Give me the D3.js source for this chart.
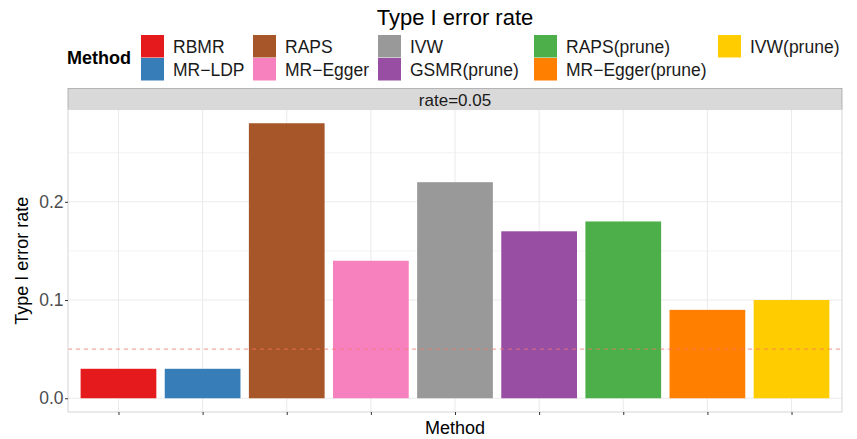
<!DOCTYPE html>
<meta charset="utf-8">
<html lang="en">
<head>
<title>Type I error rate</title>
<script src="https://d3js.org/d3.v7.min.js"></script>
<style>
  body { margin: 0; background: #fff; }
  svg text { font-family: "Liberation Sans", Arial, Helvetica, sans-serif; }
</style>
</head>
<body>
<svg id="chart" width="857" height="439"></svg>
<script>
// data
var methods = ["RBMR", "MR-LDP", "RAPS", "MR-Egger", "IVW", "GSMR(prune)", "RAPS(prune)", "MR-Egger(prune)", "IVW(prune)"]
var rates = [0.03, 0.03, 0.28, 0.14, 0.22, 0.17, 0.18, 0.09, 0.10]
var colors = ["#e41a1c", "#377eb8", "#a65628", "#f781bf", "#999999", "#984ea3", "#4daf4a", "#ff7f00", "#ffcc00"]
var yTicks = [0, 0.1, 0.2]
var yMinor = [0.05, 0.15, 0.25]
var nominal = 0.05
var facetLabel = "rate=0.05"

var svg = d3.select("#chart")

var panel = { left: 68, right: 842, top: 109.5, bottom: 412 }

// discrete x with ggplot-like 0.6 expansion
var x = d3.scalePoint()
  .domain(methods)
  .range([panel.left, panel.right])
  .padding(0.6)
var step = x.step()
var barW = step * 0.9

var yMax = d3.max(rates)
var y = d3.scaleLinear()
  .domain([-yMax * 0.05, yMax * 1.05])
  .range([panel.bottom, panel.top])

// title
svg.append("text")
  .attr("x", (panel.left + panel.right) / 2)
  .attr("y", 25)
  .attr("text-anchor", "middle")
  .attr("font-size", 22)
  .attr("fill", "#000")
  .text("Type I error rate")

// legend, filled by column with 2 rows
var legend = svg.append("g")
legend.append("text")
  .attr("x", 67).attr("y", 64)
  .attr("font-size", 18).attr("font-weight", "bold")
  .text("Method")

var colX = [141, 253, 378, 534, 718]
methods.forEach(function (m, i) {
  var col = Math.floor(i / 2), row = i % 2
  var g = legend.append("g")
    .attr("transform", "translate(" + colX[col] + "," + (35 + row * 23) + ")")
  g.append("rect")
    .attr("width", 23).attr("height", 22.5)
    .attr("fill", colors[i])
  g.append("text")
    .attr("x", 32).attr("y", 17.5)
    .attr("font-size", 17.5).attr("fill", "#1a1a1a")
    .text(m.replace("-", "\u2212"))
})

// strip
svg.append("rect")
  .attr("x", panel.left).attr("y", 88.5)
  .attr("width", panel.right - panel.left).attr("height", 21)
  .attr("fill", "#d9d9d9").attr("stroke", "#a6a6a6").attr("stroke-width", 0.8)
svg.append("text")
  .attr("x", (panel.left + panel.right) / 2).attr("y", 105.5)
  .attr("text-anchor", "middle").attr("font-size", 17).attr("fill", "#1a1a1a")
  .text(facetLabel)

// grid
var grid = svg.append("g")
grid.selectAll(".minor").data(yMinor).enter().append("line")
  .attr("x1", panel.left).attr("x2", panel.right)
  .attr("y1", y).attr("y2", y)
  .attr("stroke", "#ebebeb").attr("stroke-width", 0.6)
grid.selectAll(".major").data(yTicks).enter().append("line")
  .attr("x1", panel.left).attr("x2", panel.right)
  .attr("y1", y).attr("y2", y)
  .attr("stroke", "#ebebeb").attr("stroke-width", 1.1)
grid.selectAll(".vmajor").data(methods).enter().append("line")
  .attr("x1", x).attr("x2", x)
  .attr("y1", panel.top).attr("y2", panel.bottom)
  .attr("stroke", "#ebebeb").attr("stroke-width", 1.1)

// bars
svg.append("g").selectAll("rect")
  .data(methods).enter().append("rect")
    .attr("x", function (m) { return x(m) - barW / 2 })
    .attr("width", barW)
    .attr("y", function (m, i) { return y(rates[i]) })
    .attr("height", function (m, i) { return y(0) - y(rates[i]) })
    .attr("fill", function (m, i) { return colors[i] })

// nominal level line
svg.append("line")
  .attr("x1", panel.left).attr("x2", panel.right)
  .attr("y1", y(nominal)).attr("y2", y(nominal))
  .attr("stroke", "#f8766d").attr("stroke-opacity", 0.6)
  .attr("stroke-width", 1.2).attr("stroke-dasharray", "4,4")

// panel border
svg.append("rect")
  .attr("x", panel.left).attr("y", panel.top)
  .attr("width", panel.right - panel.left).attr("height", panel.bottom - panel.top)
  .attr("fill", "none").attr("stroke", "#d9d9d9").attr("stroke-width", 1.1)

// axes
var yAxis = svg.append("g")
  .attr("transform", "translate(" + panel.left + ",0)")
  .call(d3.axisLeft(y).tickValues(yTicks).tickFormat(d3.format(".1f")).tickSize(3).tickPadding(1.5))
yAxis.select(".domain").remove()
yAxis.selectAll("line").attr("stroke", "#333")
yAxis.selectAll("text").attr("font-size", 17.5).attr("fill", "#4d4d4d")
  .attr("font-family", "Liberation Sans, Arial, sans-serif")

var xAxis = svg.append("g")
  .attr("transform", "translate(0," + panel.bottom + ")")
  .call(d3.axisBottom(x).tickSize(3).tickFormat(""))
xAxis.select(".domain").remove()
xAxis.selectAll("line").attr("stroke", "#333")

// axis titles
svg.append("text")
  .attr("x", (panel.left + panel.right) / 2).attr("y", 433.5)
  .attr("text-anchor", "middle").attr("font-size", 18).attr("fill", "#000")
  .text("Method")
svg.append("text")
  .attr("transform", "translate(28," + ((panel.top + panel.bottom) / 2) + ") rotate(-90)")
  .attr("text-anchor", "middle").attr("font-size", 18).attr("fill", "#000")
  .text("Type I error rate")
</script>
</body>
</html>
